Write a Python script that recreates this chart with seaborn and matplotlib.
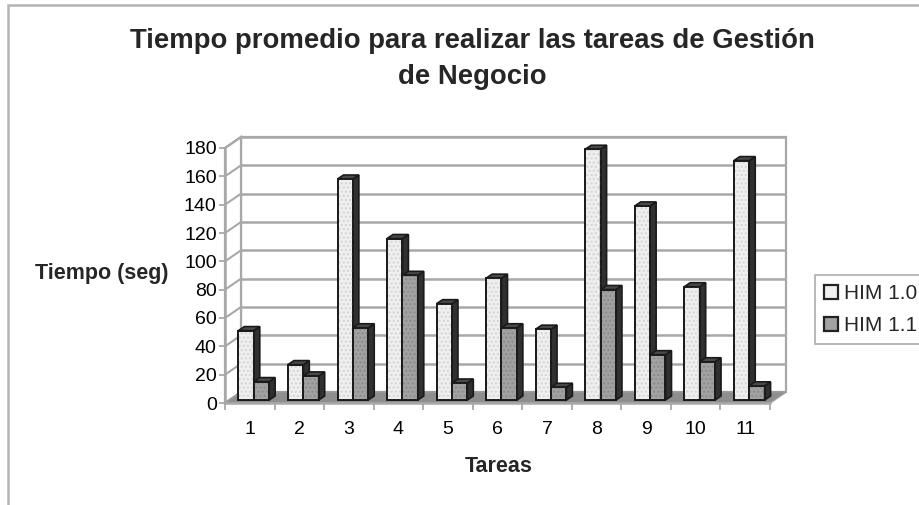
import matplotlib
matplotlib.use("Agg")
import matplotlib.pyplot as plt
from matplotlib.patches import Polygon, Rectangle, Patch
from matplotlib.transforms import offset_copy
import pandas as pd
import seaborn as sns

# Average task times (seconds) for the business-management tasks
tareas = ["1", "2", "3", "4", "5", "6", "7", "8", "9", "10", "11"]
him_10 = [49, 25, 156, 114, 68, 86, 50, 177, 137, 80, 169]
him_11 = [13, 17, 51, 88, 12, 51, 9, 78, 32, 27, 10]
versiones = ["HIM 1.0", "HIM 1.1"]
y_ticks = [0, 20, 40, 60, 80, 100, 120, 140, 160, 180]

sns.set_theme(style="white")
plt.rcParams["font.family"] = ["Liberation Sans", "DejaVu Sans"]

df = pd.DataFrame({
    "Tareas": tareas * 2,
    "Tiempo": him_10 + him_11,
    "Versión": [versiones[0]] * len(tareas) + [versiones[1]] * len(tareas),
})

W, H = 920, 505
fig = plt.figure(figsize=(W / 100, H / 100), dpi=100)
fig.patch.set_facecolor("white")

# axes box = front face of the pseudo-3D plot area
ax_l, ax_r, ax_b, ax_t = 225, 770, 403, 148
ax = fig.add_axes([ax_l / W, (H - ax_b) / H, (ax_r - ax_l) / W, (ax_b - ax_t) / H])

fills = {"HIM 1.0": "#efefef", "HIM 1.1": "#a2a2a2"}
sns.barplot(data=df, x="Tareas", y="Tiempo", hue="Versión", order=tareas,
            hue_order=versiones, palette=fills, width=0.62, dodge=True,
            edgecolor="#1a1a1a", linewidth=1.3, saturation=1, legend=False,
            errorbar=None, ax=ax)

ax.set_xlim(-0.5, len(tareas) - 0.5)
ax.set_ylim(0, 180)
ax.set_facecolor("none")
for s in ax.spines.values():
    s.set_visible(False)

# pixel -> data conversions
px_x = (ax_r - ax_l) / len(tareas)
px_y = (ax_b - ax_t) / 180.0
WDX, WDY = 16 / px_x, 11 / px_y      # depth of walls / floor
BDX, BDY = 6 / px_x, 4 / px_y        # depth of each column

x0w, x1w = -0.5, len(tareas) - 0.5
wall_col = "#a8a8a8"

# back wall, left wall and floor
ax.add_patch(Rectangle((x0w + WDX, WDY), x1w - x0w, 180, facecolor="white",
                       edgecolor=wall_col, lw=1.6, zorder=0.2, clip_on=False))
ax.add_patch(Polygon([(x0w, 0), (x0w, 180), (x0w + WDX, 180 + WDY), (x0w + WDX, WDY)],
                     closed=True, facecolor="white", edgecolor=wall_col, lw=1.6,
                     zorder=0.3, clip_on=False))
for v in y_ticks[1:]:
    ax.plot([x0w + WDX, x1w + WDX], [v + WDY, v + WDY], color=wall_col, lw=1.8,
            zorder=0.4, clip_on=False, solid_capstyle="butt")
    ax.plot([x0w, x0w + WDX], [v, v + WDY], color=wall_col, lw=1.5,
            zorder=0.4, clip_on=False)
ax.add_patch(Polygon([(x0w, 0), (x1w, 0), (x1w + WDX, WDY), (x0w + WDX, WDY)],
                     closed=True, facecolor="#8e8e8e", edgecolor="#9a9a9a", lw=1.2,
                     zorder=0.5, clip_on=False))
ax.plot([x0w, x0w], [0, 180], color=wall_col, lw=1.8, zorder=0.6, clip_on=False)
ax.plot([x0w, x1w], [0, 0], color=wall_col, lw=1.8, zorder=0.6, clip_on=False)

# columns sit half-way into the floor depth: shift them on screen
depth_tr = offset_copy(ax.transData, fig=fig, x=4, y=3, units="dots")

# side and top faces give each column its depth
side_col, top_col = "#303030", "#4a4a4a"
for k, cont in enumerate(ax.containers):
    z = 2 + k
    for bar in cont:
        bx0 = bar.get_x()
        bx1 = bx0 + bar.get_width()
        h = bar.get_height()
        bar.set_zorder(z)
        bar.set_transform(depth_tr)
        ax.add_patch(Rectangle((bx0, 0), bx1 - bx0, h, facecolor="none",
                               edgecolor="#d4d4d4" if k == 0 else "#8a8a8a",
                               hatch="....", lw=0, zorder=z + 0.01,
                               transform=depth_tr))
        ax.add_patch(Rectangle((bx0, 0), bx1 - bx0, h, facecolor="none",
                               edgecolor="#1a1a1a", lw=1.3, zorder=z + 0.02,
                               transform=depth_tr))
        ax.add_patch(Polygon([(bx1, 0), (bx1, h), (bx1 + BDX, h + BDY), (bx1 + BDX, BDY)],
                             closed=True, facecolor=side_col, edgecolor="#1a1a1a",
                             lw=1.2, zorder=z, clip_on=False, transform=depth_tr))
        ax.add_patch(Polygon([(bx0, h), (bx1, h), (bx1 + BDX, h + BDY), (bx0 + BDX, h + BDY)],
                             closed=True, facecolor=top_col, edgecolor="#1a1a1a",
                             lw=1.2, zorder=z, clip_on=False, transform=depth_tr))
        bar.set_clip_on(False)

# ticks
ax.set_yticks(y_ticks)
ax.set_yticklabels([str(v) for v in y_ticks])
ax.tick_params(axis="y", which="major", left=True, length=4, width=1.3,
               color=wall_col, labelsize=14, labelcolor="black", pad=2)
ax.set_xticks(range(len(tareas)))
ax.set_xticklabels(tareas)
ax.set_xticks([i - 0.5 for i in range(len(tareas) + 1)], minor=True)
ax.tick_params(axis="x", which="major", bottom=False, labelsize=14,
               labelcolor="black", pad=7)
ax.tick_params(axis="x", which="minor", bottom=True, length=5, width=1.3,
               color=wall_col)
ax.set_xlabel("")
ax.set_ylabel("")
ax.grid(False)

# texts
fig.text(472 / W, 1 - 41 / H, "Tiempo promedio para realizar las tareas de Gestión",
         ha="center", va="center", fontsize=19.8, fontweight="bold")
fig.text(472 / W, 1 - 77 / H, "de Negocio", ha="center", va="center",
         fontsize=19.8, fontweight="bold")
fig.text(102 / W, 1 - 273 / H, "Tiempo (seg)", ha="center", va="center",
         fontsize=15.5, fontweight="bold")
fig.text(499 / W, 1 - 466 / H, "Tareas", ha="center", va="center",
         fontsize=15.5, fontweight="bold")

# legend
handles = [Patch(facecolor=fills[v], edgecolor="#222222", lw=1.6) for v in versiones]
leg = fig.legend(handles, versiones, loc="upper left",
                 bbox_to_anchor=(815 / W, 1 - 275 / H), fontsize=15,
                 frameon=True, fancybox=False, handlelength=0.65, handleheight=0.65,
                 handletextpad=0.3, borderpad=0.45, labelspacing=0.6,
                 borderaxespad=0)
leg.get_frame().set_edgecolor("#a0a0a0")
leg.get_frame().set_linewidth(1.3)

# outer chart border
fig.add_artist(Rectangle((8 / W, -0.1), 1.2, 1.1 - 5 / H, transform=fig.transFigure,
                         facecolor="none", edgecolor="#b4b4b4", lw=1.8))

fig.savefig("out.png", dpi=100)
